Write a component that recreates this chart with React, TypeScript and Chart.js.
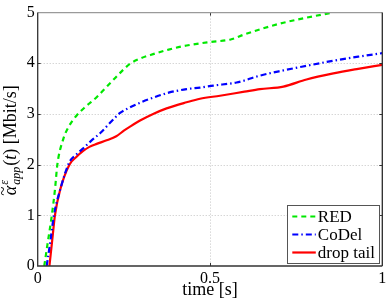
import React, { useEffect, useRef } from "react";
import { Chart, registerables } from "chart.js";

Chart.register(...registerables);

// ---- data ----
const redT = [0.019, 0.03, 0.041, 0.05, 0.057, 0.074, 0.09, 0.113, 0.14, 0.171, 0.195, 0.219, 0.245, 0.268, 0.3, 0.335, 0.38, 0.432, 0.5, 0.56, 0.6, 0.65, 0.713, 0.78, 0.855];
const redV = [0, 0.5, 1.0, 1.5, 2.0, 2.5, 2.75, 2.97, 3.15, 3.33, 3.5, 3.67, 3.85, 3.99, 4.1, 4.18, 4.27, 4.35, 4.42, 4.47, 4.57, 4.68, 4.8, 4.9, 5.0];

const codelT = [0.026, 0.037, 0.047, 0.065, 0.092, 0.112, 0.132, 0.155, 0.181, 0.215, 0.239, 0.268, 0.3, 0.335, 0.38, 0.432, 0.471, 0.51, 0.577, 0.6, 0.636, 0.713, 0.78, 0.858, 0.93, 1.0];
const codelV = [0, 0.5, 1.0, 1.5, 2.05, 2.2, 2.32, 2.47, 2.62, 2.86, 3.02, 3.13, 3.23, 3.32, 3.42, 3.49, 3.52, 3.56, 3.62, 3.66, 3.74, 3.86, 3.95, 4.05, 4.13, 4.2];

const dropT = [0.034, 0.042, 0.05, 0.065, 0.092, 0.112, 0.132, 0.15, 0.171, 0.2, 0.228, 0.25, 0.268, 0.297, 0.335, 0.374, 0.432, 0.471, 0.529, 0.6, 0.645, 0.713, 0.78, 0.858, 0.93, 1.0];
const dropV = [0, 0.5, 1.0, 1.5, 2.0, 2.15, 2.27, 2.35, 2.41, 2.48, 2.56, 2.67, 2.75, 2.87, 3.0, 3.11, 3.23, 3.3, 3.36, 3.44, 3.49, 3.54, 3.68, 3.8, 3.89, 3.97];

const seriesLabels = ["RED", "CoDel", "drop tail"];
const xTicks = [0, 0.5, 1];
const yTicks = [0, 1, 2, 3, 4, 5];
const xTitle = "time [s]";

const FONT = "'Liberation Serif','Times New Roman',serif";

const toPts = (t: number[], v: number[]) => t.map((x, i) => ({ x, y: v[i] }));

const gridPlugin = {
  id: "matlabGrid",
  beforeDatasetsDraw(chart: any) {
    const { ctx, chartArea: a, scales } = chart;
    ctx.save();
    ctx.strokeStyle = "#c4c4c4";
    ctx.lineWidth = 1;
    ctx.setLineDash([1, 2]);
    for (const v of yTicks.slice(1, -1)) {
      const y = Math.round(scales.y.getPixelForValue(v)) + 0.5;
      ctx.beginPath();
      ctx.moveTo(a.left, y);
      ctx.lineTo(a.right, y);
      ctx.stroke();
    }
    for (const v of xTicks.slice(1, -1)) {
      const x = Math.round(scales.x.getPixelForValue(v)) + 0.5;
      ctx.beginPath();
      ctx.moveTo(x, a.top);
      ctx.lineTo(x, a.bottom);
      ctx.stroke();
    }
    ctx.restore();
  },
  afterDatasetsDraw(chart: any) {
    const { ctx, chartArea: a, scales } = chart;
    ctx.save();
    ctx.setLineDash([]);
    ctx.lineWidth = 1;
    // inward tick marks
    ctx.strokeStyle = "#333";
    for (const v of yTicks.slice(1, -1)) {
      const y = Math.round(scales.y.getPixelForValue(v)) + 0.5;
      ctx.beginPath();
      ctx.moveTo(a.left, y);
      ctx.lineTo(a.left + 3, y);
      ctx.moveTo(a.right, y);
      ctx.lineTo(a.right - 3, y);
      ctx.stroke();
    }
    for (const v of xTicks.slice(1, -1)) {
      const x = Math.round(scales.x.getPixelForValue(v)) + 0.5;
      ctx.beginPath();
      ctx.moveTo(x, a.bottom);
      ctx.lineTo(x, a.bottom - 3);
      ctx.moveTo(x, a.top);
      ctx.lineTo(x, a.top + 3);
      ctx.stroke();
    }
    // frame
    ctx.lineWidth = 1.3;
    ctx.strokeStyle = "#9a9a9a";
    ctx.beginPath();
    ctx.moveTo(a.left, a.top);
    ctx.lineTo(a.right, a.top);
    ctx.stroke();
    ctx.strokeStyle = "#2a2a2a";
    ctx.beginPath();
    ctx.moveTo(a.right, a.top);
    ctx.lineTo(a.right, a.bottom);
    ctx.stroke();
    ctx.strokeStyle = "#333";
    ctx.beginPath();
    ctx.moveTo(a.left, a.top);
    ctx.lineTo(a.left, a.bottom);
    ctx.lineTo(a.right, a.bottom);
    ctx.stroke();
    ctx.restore();
  },
};

const legendPlugin = {
  id: "boxLegend",
  afterDraw(chart: any) {
    const { ctx, chartArea: a } = chart;
    const right = a.right - 3.5;
    const bottom = a.bottom - 3;
    const w = 92;
    const h = 58;
    const left = right - w;
    const top = bottom - h;
    ctx.save();
    ctx.fillStyle = "#fff";
    ctx.fillRect(left, top, w, h);
    ctx.strokeStyle = "#555";
    ctx.lineWidth = 1;
    ctx.setLineDash([]);
    ctx.strokeRect(Math.round(left) + 0.5, Math.round(top) + 0.5, w, h);
    ctx.font = `17px ${FONT}`;
    ctx.textBaseline = "middle";
    ctx.textAlign = "left";
    chart.data.datasets.forEach((ds: any, i: number) => {
      const y = top + 11.5 + i * 18;
      ctx.strokeStyle = ds.borderColor;
      ctx.lineWidth = ds.borderWidth;
      ctx.setLineDash(ds.borderDash || []);
      ctx.beginPath();
      ctx.moveTo(left + 5.5, y);
      ctx.lineTo(left + 29, y);
      ctx.stroke();
      ctx.setLineDash([]);
      ctx.fillStyle = "#000";
      ctx.fillText(ds.label, left + 31, y + 1);
    });
    ctx.restore();
  },
};

const yTitlePlugin = {
  id: "yTitle",
  afterDraw(chart: any) {
    const { ctx, chartArea: a } = chart;
    const cy = (a.top + a.bottom) / 2 + 1;
    ctx.save();
    ctx.translate(16, cy);
    ctx.rotate(-Math.PI / 2);
    ctx.fillStyle = "#000";
    ctx.textAlign = "left";
    ctx.textBaseline = "alphabetic";
    const big = `18px ${FONT}`;
    const bigI = `italic 18px ${FONT}`;
    const small = `italic 12px ${FONT}`;
    ctx.font = bigI;
    const wa = ctx.measureText("α").width;
    const wt = ctx.measureText("t").width;
    ctx.font = small;
    const ws = Math.max(ctx.measureText("app").width, ctx.measureText("ε").width);
    ctx.font = big;
    const wl = ctx.measureText("(").width;
    const wr = ctx.measureText(") [Mbit/s]").width;
    const total = wa + 1 + ws + 1 + wl + wt + wr;
    let x = -total / 2;
    ctx.font = bigI;
    ctx.fillText("α", x, 0);
    ctx.font = `17px ${FONT}`;
    ctx.fillText("~", x - 0.5, -8.5);
    x += wa + 1;
    ctx.font = small;
    ctx.fillText("ε", x, -8);
    ctx.fillText("app", x, 4);
    x += ws + 1;
    ctx.font = big;
    ctx.fillText("(", x, 0);
    x += wl;
    ctx.font = bigI;
    ctx.fillText("t", x, 0);
    x += wt;
    ctx.font = big;
    ctx.fillText(") [Mbit/s]", x, 0);
    ctx.restore();
  },
};

export default function App() {
  const ref = useRef<HTMLCanvasElement | null>(null);
  useEffect(() => {
    if (!ref.current) return;
    const chart = new Chart(ref.current, {
      type: "line",
      data: {
        datasets: [
          {
            label: seriesLabels[0],
            data: toPts(redT, redV),
            borderColor: "#00e800",
            borderWidth: 2.2,
            borderDash: [5, 4],
            pointRadius: 0,
            cubicInterpolationMode: "monotone",
            fill: false,
          },
          {
            label: seriesLabels[1],
            data: toPts(codelT, codelV),
            borderColor: "#0000ff",
            borderWidth: 2.2,
            borderDash: [6, 3, 1.5, 3],
            pointRadius: 0,
            cubicInterpolationMode: "monotone",
            fill: false,
          },
          {
            label: seriesLabels[2],
            data: toPts(dropT, dropV),
            borderColor: "#ff0000",
            borderWidth: 2.2,
            pointRadius: 0,
            cubicInterpolationMode: "monotone",
            fill: false,
          },
        ],
      },
      options: {
        animation: false,
        responsive: false,
        devicePixelRatio: 1,
        layout: { padding: { top: 12, right: 7.7, left: 0, bottom: 0 } },
        plugins: {
          legend: { display: false },
          tooltip: { enabled: false },
        },
        scales: {
          x: {
            type: "linear",
            min: 0,
            max: 1,
            afterBuildTicks: (s: any) => {
              s.ticks = xTicks.map((v) => ({ value: v }));
            },
            afterFit: (s: any) => {
              s.height = 36;
            },
            grid: { display: false, drawTicks: false },
            border: { display: false },
            ticks: {
              padding: 3,
              color: "#000",
              font: { family: FONT, size: 16 },
              maxRotation: 0,
              callback: (v: any) => String(v),
            },
            title: {
              display: true,
              text: xTitle,
              color: "#000",
              font: { family: FONT, size: 18 },
              padding: { top: 0, bottom: 1 },
            },
          },
          y: {
            type: "linear",
            min: 0,
            max: 5,
            afterBuildTicks: (s: any) => {
              s.ticks = yTicks.map((v) => ({ value: v }));
            },
            afterFit: (s: any) => {
              s.width = 37.7;
            },
            grid: { display: false, drawTicks: false },
            border: { display: false },
            ticks: {
              padding: 3,
              color: "#000",
              font: { family: FONT, size: 16 },
              callback: (v: any) => String(v),
            },
          },
        },
      },
      plugins: [gridPlugin, legendPlugin, yTitlePlugin],
    } as any);
    return () => chart.destroy();
  }, []);
  return (
    <div style={{ position: "fixed", left: 0, top: 0, width: 390, height: 302, background: "#fff" }}>
      <canvas ref={ref} width={390} height={302} style={{ width: 390, height: 302, display: "block" }} />
    </div>
  );
}
